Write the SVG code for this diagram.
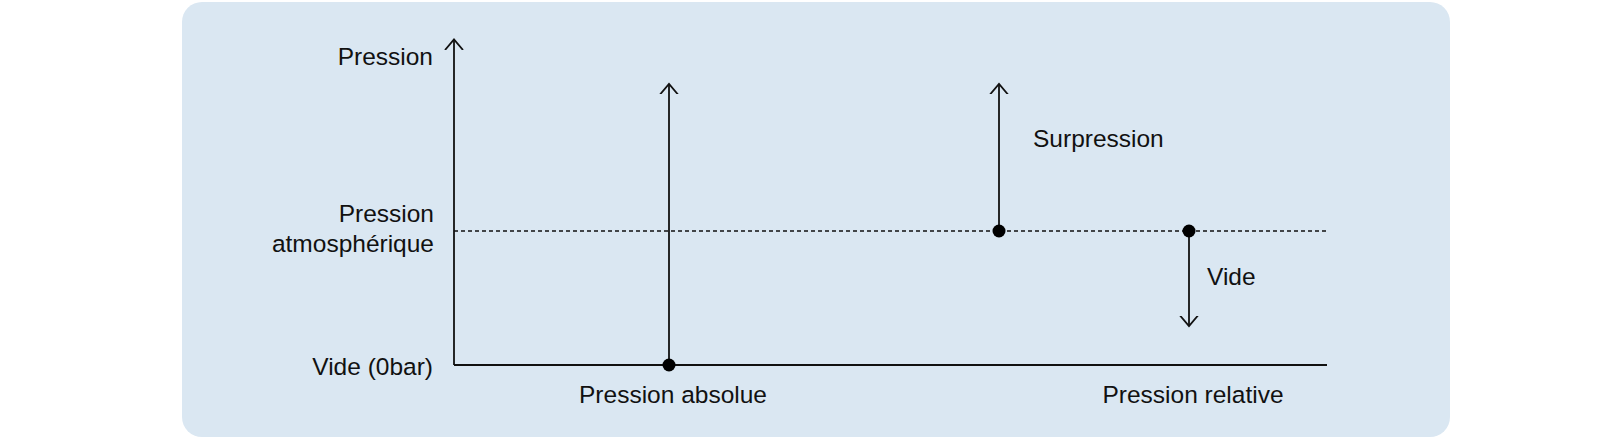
<svg xmlns="http://www.w3.org/2000/svg" width="1600" height="441" viewBox="0 0 1600 441">
<style>
.t{font-family:"Liberation Sans",Arial,Helvetica,sans-serif;font-size:24.5px;fill:#111}
.ln{stroke:#111;stroke-width:1.8;fill:none}
.dot{fill:#000}
</style>
<defs>
<marker id="arr" viewBox="-10 -10 20 20" markerWidth="20" markerHeight="20" refX="0" refY="0" orient="auto" markerUnits="userSpaceOnUse">
<path d="M-10.5,-9 L0,0 L-10.5,9" fill="none" stroke="#111" stroke-width="1.8"/>
</marker>
</defs>
<rect id="background" x="182" y="2" width="1268" height="435" rx="20" fill="#dae7f2"/>
<g id="connectors">
<line class="ln" x1="454" y1="365" x2="1327" y2="365"/>
<line class="ln" x1="454" y1="365" x2="454" y2="39.5" marker-end="url(#arr)"/>
<line x1="454" y1="231" x2="1327" y2="231" stroke="#111" stroke-width="1.6" stroke-dasharray="4,3"/>
<line class="ln" x1="669" y1="365" x2="669" y2="84" marker-end="url(#arr)"/>
<line class="ln" x1="999" y1="231" x2="999" y2="84" marker-end="url(#arr)"/>
<line class="ln" x1="1189" y1="231" x2="1189" y2="326" marker-end="url(#arr)"/>
</g>
<g id="dot-absolue"><circle class="dot" cx="669" cy="365" r="6.5"/></g>
<g id="dot-surpression"><circle class="dot" cx="999" cy="231" r="6.5"/></g>
<g id="dot-vide"><circle class="dot" cx="1189" cy="231" r="6.5"/></g>
<g id="label-pression"><text class="t" x="433" y="65" text-anchor="end">Pression</text></g>
<g id="label-atm"><text class="t" x="434" y="222" text-anchor="end">Pression</text><text class="t" x="434" y="252" text-anchor="end">atmosphérique</text></g>
<g id="label-vide0"><text class="t" x="433" y="375" text-anchor="end">Vide (0bar)</text></g>
<g id="label-absolue"><text class="t" x="673" y="403" text-anchor="middle">Pression absolue</text></g>
<g id="label-relative"><text class="t" x="1193" y="403" text-anchor="middle">Pression relative</text></g>
<g id="label-surpression"><text class="t" x="1033" y="147">Surpression</text></g>
<g id="label-vide"><text class="t" x="1207" y="285">Vide</text></g>
</svg>
